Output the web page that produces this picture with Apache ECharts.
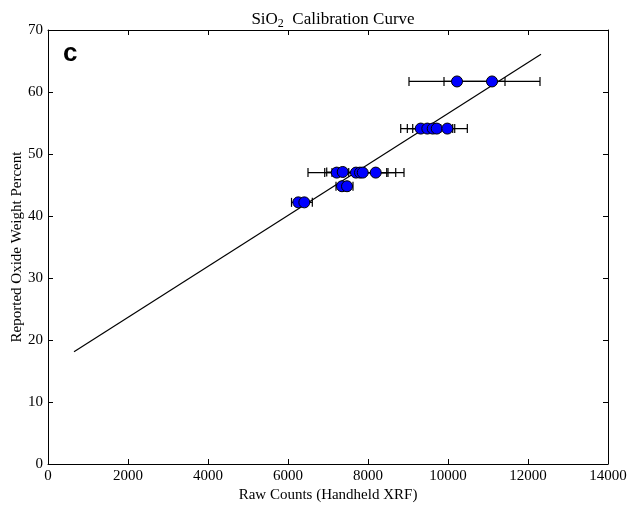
<!DOCTYPE html>
<html>
<head>
<meta charset="utf-8">
<script src="https://cdn.jsdelivr.net/npm/echarts@6/dist/echarts.min.js"></script>
<style>html,body{margin:0;padding:0;background:#fff;}#c{width:627px;height:508px;}</style>
</head>
<body>
<div id="c"></div>
<script>
// Data
const xVals = [10225, 11100, 9318, 9483, 9618, 9718, 9983, 7218, 7368, 7700, 7800, 7868, 8193, 7350, 7475, 6258, 6408];
const yVals = [61.7, 61.7, 54.1, 54.1, 54.1, 54.1, 54.1, 47.0, 47.1, 47.0, 47.0, 47.0, 47.0, 44.8, 44.8, 42.2, 42.2];
const xErr  = [1200, 1200, 500, 500, 500, 450, 500, 300, 400, 1200, 700, 600, 500, 150, 150, 170, 200];
const fitX = [650, 12325];
const fitY = [18.1, 66.1];
const xTicks = [0, 2000, 4000, 6000, 8000, 10000, 12000, 14000];
const yTicks = [0, 10, 20, 30, 40, 50, 60, 70];

const serif = 'Liberation Serif';
const chart = echarts.init(document.getElementById('c'));
const pts = xVals.map((x, i) => [x, yVals[i]]);
const errData = xVals.map((x, i) => [x, yVals[i], xErr[i]]);
const fitData = fitX.map((x, i) => [x, fitY[i]]);

const axisCommon = {
  axisLine: {show: true, onZero: false, lineStyle: {color: '#000', width: 1}},
  axisTick: {show: true, inside: true, length: 5, lineStyle: {color: '#000', width: 1}},
  splitLine: {show: false}
};

chart.setOption({
  animation: false,
  backgroundColor: '#fff',
  title: {
    text: '{a|SiO}{b|2}{a|  Calibration Curve}',
    left: 328, top: 4, textAlign: 'center',
    textStyle: {
      fontWeight: 'normal',
      rich: {
        a: {fontFamily: serif, fontSize: 17, fontWeight: 'normal', color: '#000'},
        b: {fontFamily: serif, fontSize: 12, fontWeight: 'normal', color: '#000', padding: [9, 0, 0, 0]}
      }
    }
  },
  graphic: [{
    type: 'text', left: 63, top: 41,
    style: {text: 'c', font: 'bold 26px "Liberation Sans"', fill: '#000'}
  }],
  grid: {left: 48, right: 19, top: 30, bottom: 44, containLabel: false, outerBoundsMode: 'none'},
  xAxis: [
    Object.assign({}, axisCommon, {
      type: 'value', min: 0, max: 14000, interval: 2000, position: 'bottom',
      name: 'Raw Counts (Handheld XRF)', nameLocation: 'middle', nameGap: 24, nameMoveOverlap: false,
      nameTextStyle: {fontFamily: serif, fontSize: 15, color: '#000'},
      axisLabel: {fontFamily: serif, fontSize: 15, color: '#000', margin: 5,
        formatter: v => xTicks.includes(v) ? String(v) : ''}
    }),
    Object.assign({}, axisCommon, {
      type: 'value', min: 0, max: 14000, interval: 2000, position: 'top',
      axisLabel: {show: false}
    })
  ],
  yAxis: [
    Object.assign({}, axisCommon, {
      type: 'value', min: 0, max: 70, interval: 10, position: 'left',
      name: 'Reported Oxide Weight Percent', nameLocation: 'middle', nameGap: 23, nameMoveOverlap: false,
      nameTextStyle: {fontFamily: serif, fontSize: 15, color: '#000'},
      axisLabel: {fontFamily: serif, fontSize: 15, color: '#000', margin: 5,
        formatter: v => yTicks.includes(v) ? String(v) : ''}
    }),
    Object.assign({}, axisCommon, {
      type: 'value', min: 0, max: 70, interval: 10, position: 'right',
      axisLabel: {show: false}
    })
  ],
  series: [
    {
      type: 'line', data: fitData, showSymbol: false, symbol: 'none',
      lineStyle: {color: '#000', width: 1.2}, z: 2, silent: true
    },
    {
      type: 'custom', data: errData, z: 3, silent: true,
      encode: {x: 0, y: 1},
      renderItem: function (params, api) {
        const x = api.value(0), y = api.value(1), e = api.value(2);
        const p1 = api.coord([x - e, y]);
        const p2 = api.coord([x + e, y]);
        const h = 4.5;
        const st = {stroke: '#000', lineWidth: 1.2};
        return {
          type: 'group',
          children: [
            {type: 'line', shape: {x1: p1[0], y1: p1[1], x2: p2[0], y2: p2[1]}, style: st},
            {type: 'line', shape: {x1: p1[0], y1: p1[1] - h, x2: p1[0], y2: p1[1] + h}, style: st},
            {type: 'line', shape: {x1: p2[0], y1: p2[1] - h, x2: p2[0], y2: p2[1] + h}, style: st}
          ]
        };
      }
    },
    {
      type: 'scatter', data: pts, symbol: 'circle', symbolSize: 11, z: 4,
      itemStyle: {color: '#0000ff', borderColor: '#000', borderWidth: 1, opacity: 1}
    }
  ]
});
</script>
</body>
</html>
